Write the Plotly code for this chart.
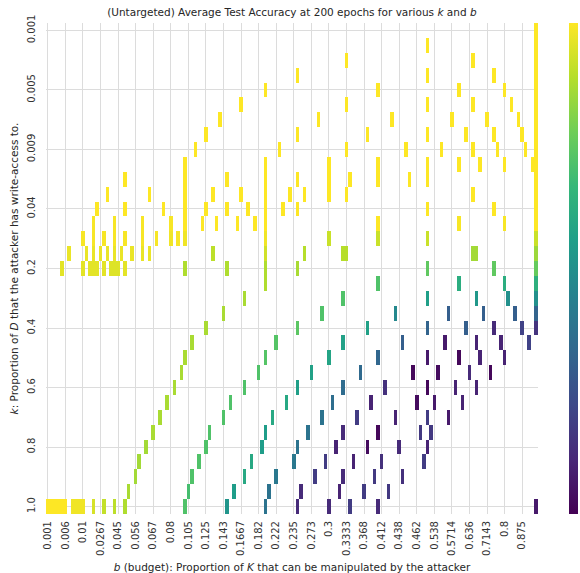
import numpy as np
import plotly.graph_objects as go

# ---- axes categories -------------------------------------------------------
n_b = 140          # number of distinct budget values (columns)
n_k = 33           # number of distinct k values (rows)
b_tick_labels = ["0.001", "0.006", "0.01", "0.0267", "0.045", "0.056", "0.067",
                 "0.08", "0.105", "0.125", "0.143", "0.1667", "0.182", "0.222",
                 "0.235", "0.273", "0.3", "0.3333", "0.368", "0.412", "0.438",
                 "0.462", "0.538", "0.5714", "0.636", "0.7143", "0.8", "0.875"]
b_tick_step = 5
k_tick_labels = ["0.001", "0.005", "0.009", "0.04", "0.2", "0.4", "0.6", "0.8", "1.0"]
k_tick_step = 4

# ---- observed cells: (b column index, accuracy) per k row ------------------
row_00 = [(139, 1.0)]
row_01 = [(108, 1.0), (139, 1.0)]
row_02 = [(85, 1.0), (121, 1.0), (139, 1.0)]
row_03 = [(71, 1.0), (108, 1.0), (127, 1.0), (139, 1.0)]
row_04 = [(62, 1.0), (94, 1.0), (117, 1.0), (130, 1.0), (139, 1.0)]
row_05 = [(55, 1.0), (85, 1.0), (108, 1.0), (121, 1.0), (132, 1.0), (139, 1.0)]
row_06 = [(49, 1.0), (77, 1.0), (98, 1.0), (115, 1.0), (125, 1.0), (134, 1.0), (139, 1.0)]
row_07 = [(45, 1.0), (71, 1.0), (91, 1.0), (108, 1.0), (119, 1.0), (127, 1.0), (135, 1.0), (139, 1.0)]
row_08 = [(42, 1.0), (66, 1.0), (85, 1.0), (102, 1.0), (112, 1.0), (121, 1.0), (128, 1.0), (136, 1.0), (139, 1.0)]
row_09 = [(39, 1.0), (62, 1.0), (80, 1.0), (94, 1.0), (108, 1.0), (117, 1.0), (123, 1.0), (130, 1.0), (138, 1.0), (139, 1.0)]
row_10 = [(22, 1.0), (39, 1.0), (51, 1.0), (62, 1.0), (71, 1.0), (80, 1.0), (86, 1.0), (94, 1.0), (103, 1.0), (108, 1.0), (139, 1.0)]
row_11 = [(17, 1.0), (29, 1.0), (39, 1.0), (47, 1.0), (55, 1.0), (62, 1.0), (69, 1.0), (73, 1.0), (80, 1.0), (85, 1.0), (121, 1.0), (139, 1.0)]
row_12 = [(14, 1.0), (22, 1.0), (33, 1.0), (39, 1.0), (45, 1.0), (51, 1.0), (57, 1.0), (62, 1.0), (67, 1.0), (71, 1.0), (108, 1.0), (127, 1.0), (139, 1.0)]
row_13 = [(13, 0.99), (19, 0.99), (27, 0.99), (35, 0.99), (39, 1.0), (44, 1.0), (48, 1.0), (54, 1.0), (59, 1.0), (62, 1.0), (94, 1.0), (117, 0.99), (130, 0.99), (139, 1.0)]
row_14 = [(10, 0.99), (13, 0.99), (16, 0.99), (19, 0.99), (22, 0.99), (27, 0.99), (31, 0.99), (35, 0.98), (37, 0.99), (39, 0.98), (62, 0.98), (80, 0.92), (94, 0.92), (108, 0.92), (139, 0.92)]
row_15 = [(6, 0.97), (11, 0.97), (13, 0.97), (15, 0.97), (17, 0.97), (19, 0.97), (21, 0.97), (24, 0.97), (27, 0.97), (29, 0.97), (47, 0.9), (62, 0.93), (73, 0.89), (84, 0.89), (85, 0.89), (121, 0.86), (122, 0.86), (139, 0.85)]
row_16 = [(4, 0.96), (10, 0.96), (12, 0.96), (13, 0.96), (14, 0.96), (16, 0.96), (18, 0.95), (19, 0.95), (20, 0.95), (22, 0.96), (39, 0.88), (51, 0.88), (62, 0.88), (71, 0.87), (108, 0.75), (127, 0.75), (139, 0.76)]
row_17 = [(62, 0.88), (94, 0.72), (117, 0.62), (130, 0.62), (139, 0.63)]
row_18 = [(56, 0.87), (84, 0.72), (108, 0.56), (122, 0.53), (131, 0.5), (139, 0.5)]
row_19 = [(50, 0.87), (78, 0.72), (99, 0.47), (114, 0.3), (124, 0.3), (133, 0.3), (139, 0.32)]
row_20 = [(45, 0.87), (71, 0.74), (91, 0.57), (108, 0.32), (119, 0.3), (127, 0.12), (135, 0.2), (139, 0.15)]
row_21 = [(41, 0.87), (65, 0.73), (84, 0.57), (101, 0.3), (113, 0.07), (122, 0.1), (129, 0.1), (137, 0.2)]
row_22 = [(39, 0.87), (62, 0.73), (80, 0.58), (94, 0.33), (108, 0.07), (117, 0.02), (123, 0.1), (130, 0.1)]
row_23 = [(38, 0.87), (60, 0.72), (75, 0.57), (89, 0.34), (104, 0.02), (111, 0.03), (120, 0.12), (126, 0.02)]
row_24 = [(36, 0.87), (56, 0.72), (71, 0.56), (84, 0.35), (96, 0.14), (108, 0.02), (116, 0.1), (122, 0.1)]
row_25 = [(34, 0.87), (52, 0.72), (68, 0.6), (81, 0.36), (92, 0.1), (105, 0.03), (110, 0.07), (118, 0.1)]
row_26 = [(32, 0.87), (50, 0.72), (64, 0.6), (78, 0.38), (88, 0.18), (99, 0.1), (108, 0.18), (114, 0.07)]
row_27 = [(30, 0.87), (46, 0.72), (62, 0.55), (74, 0.38), (84, 0.12), (94, 0.02), (106, 0.17), (109, 0.17)]
row_28 = [(28, 0.86), (45, 0.72), (61, 0.55), (71, 0.38), (82, 0.1), (91, 0.03), (100, 0.12), (108, 0.1)]
row_29 = [(26, 0.86), (43, 0.72), (58, 0.6), (70, 0.4), (79, 0.18), (87, 0.1), (95, 0.14), (107, 0.18)]
row_30 = [(25, 0.86), (41, 0.72), (56, 0.6), (65, 0.4), (76, 0.18), (84, 0.12), (93, 0.17), (101, 0.14)]
row_31 = [(23, 0.87), (40, 0.7), (53, 0.55), (63, 0.38), (72, 0.12), (83, 0.1), (90, 0.18), (97, 0.17)]
row_32 = [(0, 1.0), (1, 1.0), (2, 1.0), (3, 1.0), (4, 1.0), (5, 1.0), (7, 0.98), (8, 0.98), (9, 0.98), (10, 0.98),
          (13, 0.94), (16, 0.91), (19, 0.9), (22, 0.88), (39, 0.72), (51, 0.52), (62, 0.38), (71, 0.12),
          (80, 0.12), (86, 0.18), (94, 0.12), (139, 0.07)]

rows = [row_00, row_01, row_02, row_03, row_04, row_05, row_06, row_07, row_08, row_09,
        row_10, row_11, row_12, row_13, row_14, row_15, row_16, row_17, row_18, row_19,
        row_20, row_21, row_22, row_23, row_24, row_25, row_26, row_27, row_28, row_29,
        row_30, row_31, row_32]

z = np.full((n_k, n_b), np.nan)
for r, cells in enumerate(rows):
    for c, v in cells:
        z[r, c] = v

# ---- figure ------------------------------------------------------------
W, H = 580, 573
ml, mr, mt, mb = 45.5, 41.7, 23, 59
font = "DejaVu Sans"
txt = "#262626"

fig = go.Figure(go.Heatmap(
    z=z, x=list(range(n_b)), y=list(range(n_k)),
    colorscale="Viridis", zmin=0, zmax=1, hoverongaps=False,
    colorbar=dict(thickness=9, len=1.0, lenmode="fraction", y=0.5, yanchor="middle",
                  x=(569 - ml) / (W - ml - mr), xanchor="left", xpad=0, ypad=0,
                  outlinewidth=0, showticklabels=False, ticks=""),
))

fig.update_layout(
    width=W, height=H, margin=dict(l=ml, r=mr, t=mt, b=mb, autoexpand=False),
    paper_bgcolor="white", plot_bgcolor="white",
    font=dict(family=font, color=txt, size=10),
    title=dict(text="(Untargeted) Average Test Accuracy at 200 epochs for various <i>k</i> and <i>b</i>",
               x=(ml + (W - ml - mr) / 2) / W, xanchor="center", xref="container",
               y=1 - 12 / H, yanchor="middle", yref="container",
               font=dict(family=font, size=10.5, color=txt)),
)
fig.update_xaxes(
    range=[-0.5, n_b - 0.5], tickmode="array",
    tickvals=list(range(0, n_b, b_tick_step))[:len(b_tick_labels)], ticktext=b_tick_labels,
    tickangle=-90, ticks="", ticklabelstandoff=4, showgrid=True, gridcolor="#dcdcdc", gridwidth=1,
    zeroline=False, showline=False, tickfont=dict(size=10, color="#333333"),
    title=dict(text="<i>b</i> (budget): Proportion of <i>K</i> that can be manipulated by the attacker",
               font=dict(size=10.5, color=txt), standoff=8),
)
fig.update_yaxes(
    range=[n_k - 0.5, -0.5], tickmode="array",
    tickvals=list(range(0, n_k, k_tick_step)), ticktext=k_tick_labels,
    tickangle=-90, ticks="", ticklabelstandoff=8, showgrid=True, gridcolor="#dcdcdc", gridwidth=1,
    zeroline=False, showline=False, tickfont=dict(size=10, color="#333333"),
    title=dict(text="<i>k</i>: Proportion of <i>D</i> that the attacker has write-access to.",
               font=dict(size=10.5, color=txt), standoff=5),
)

fig.write_html("out.html")
